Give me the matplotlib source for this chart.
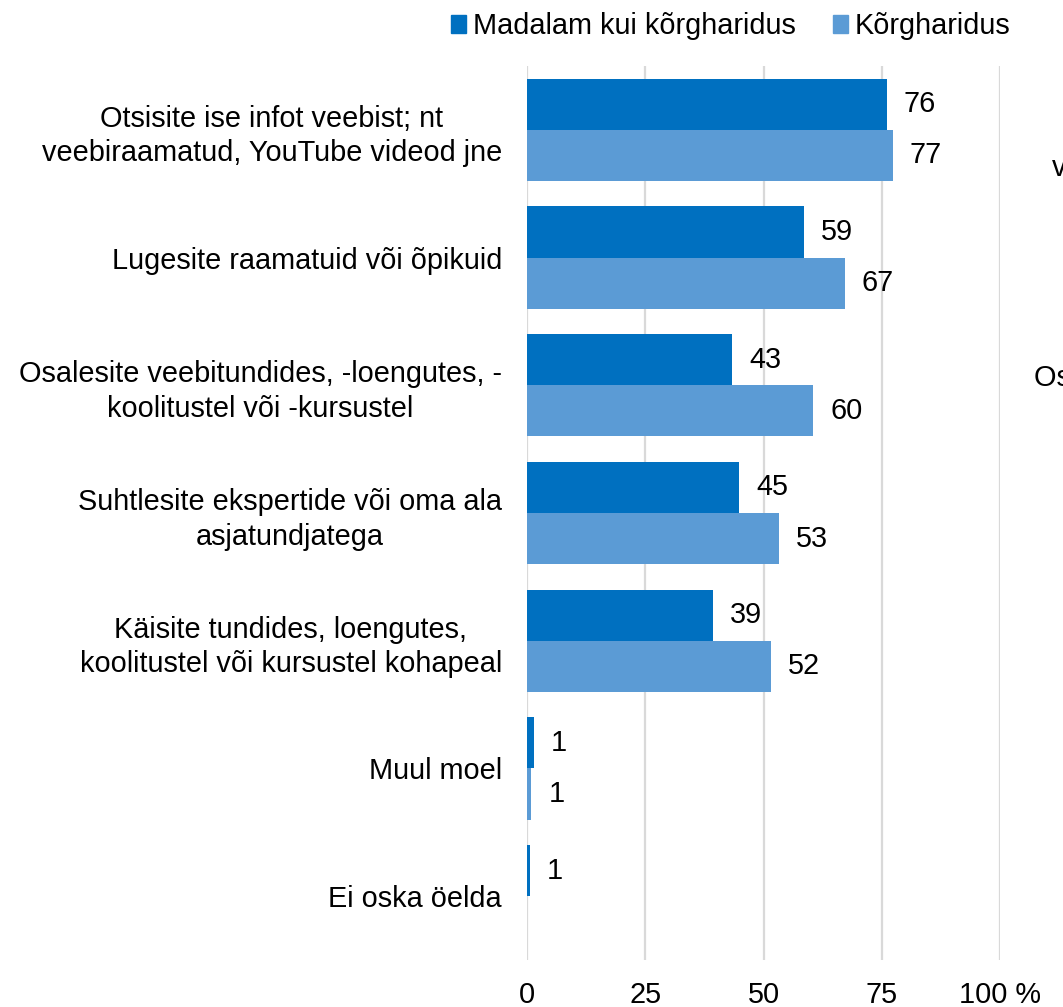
import matplotlib.pyplot as plt
from matplotlib.patches import Patch
import numpy as np

plt.rcParams["font.family"] = ["Liberation Sans", "DejaVu Sans"]

categories = [
    "Otsisite ise infot veebist; nt\nveebiraamatud, YouTube videod jne",
    "Lugesite raamatuid või õpikuid",
    "Osalesite veebitundides, -loengutes, -\nkoolitustel või -kursustel",
    "Suhtlesite ekspertide või oma ala\nasjatundjatega",
    "Käisite tundides, loengutes,\nkoolitustel või kursustel kohapeal",
    "Muul moel",
    "Ei oska öelda",
]
madalam = [76.1, 58.6, 43.4, 44.8, 39.3, 1.4, 0.6]
korg = [77.3, 67.2, 60.5, 53.3, 51.6, 0.9, 0.0]
series_names = ["Madalam kui kõrgharidus", "Kõrgharidus"]
xticks = [0, 25, 50, 75, 100]
xticklabels = ["0", "25", "50", "75", "100 %"]

dark = "#0070C0"
light = "#5B9BD5"
fs = 20.8

fig = plt.figure(figsize=(10.63, 10.07), dpi=100)
W, H = 1063, 1007
ax = fig.add_axes([527 / W, (H - 960) / H, (1000 - 527) / W, 894 / H])

y = np.arange(len(categories))
h = 0.4
ax.barh(y - h / 2, madalam, height=h, color=dark, zorder=3)
ax.barh(y + h / 2, korg, height=h, color=light, zorder=3)

for yi, v in zip(y - h / 2, madalam):
    if v > 0:
        ax.text(v + 3.6, yi, f"{v:.0f}", va="center", ha="left", fontsize=fs)
for yi, v in zip(y + h / 2, korg):
    if v > 0:
        ax.text(v + 3.6, yi, f"{v:.0f}", va="center", ha="left", fontsize=fs)

ax.set_xlim(0, 100)
ax.set_ylim(len(categories) - 0.5, -0.5)
ax.set_xticks(xticks)
ax.set_xticklabels(xticklabels, fontsize=fs)
ax.set_yticks(y)
ax.set_yticklabels(categories, fontsize=fs, linespacing=1.3)
for lab in ax.get_yticklabels():
    lab.set_multialignment("center")
ax.tick_params(axis="both", length=0)
ax.tick_params(axis="x", pad=15)
ax.tick_params(axis="y", pad=18)
ax.grid(axis="x", color="#D9D9D9", linewidth=1.6, zorder=0)
for s in ax.spines.values():
    s.set_visible(False)

handles = [Patch(color=dark), Patch(color=light)]
fig.legend(handles, series_names, loc="center", bbox_to_anchor=(731 / W, 1 - 26 / H),
           ncol=2, frameon=False, fontsize=fs, handlelength=0.5, handleheight=0.6,
           handletextpad=0.25, columnspacing=1.3, borderaxespad=0)

# cut-off labels of the neighbouring chart at the right edge
fig.text(1052 / W, 1 - 168 / H, "veebiraamatud, YouTube videod jne", fontsize=fs,
         va="center", ha="left")
fig.text(1034 / W, 1 - 378 / H, "Osalesite veebitundides, -loengutes, -", fontsize=fs,
         va="center", ha="left")

fig.savefig("out.png", dpi=100)
